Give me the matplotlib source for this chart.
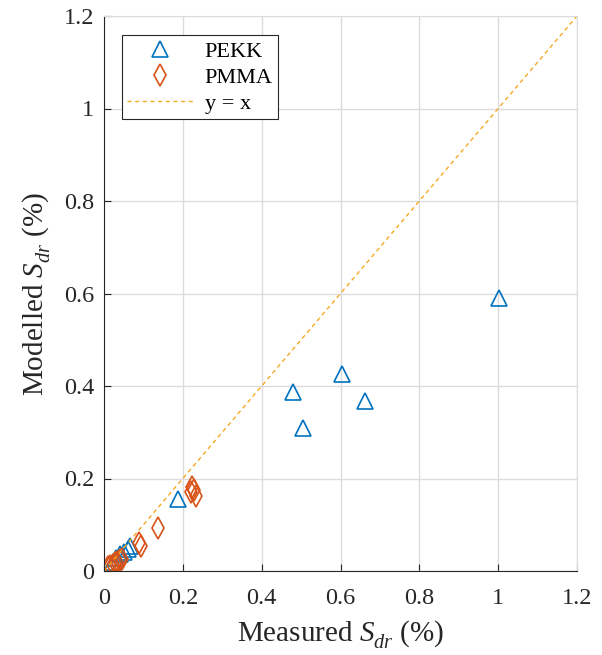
import matplotlib
matplotlib.use('Agg')
import matplotlib.pyplot as plt
import matplotlib._mathtext as mathtext
import numpy as np

plt.rcParams['font.family'] = ['Liberation Serif', 'DejaVu Serif']
plt.rcParams['mathtext.fontset'] = 'custom'
plt.rcParams['mathtext.it'] = 'Liberation Serif:italic'
plt.rcParams['mathtext.rm'] = 'Liberation Serif'
# drop the subscript a bit lower, like the MATLAB tex interpreter
mathtext.FontConstantsBase.sub1 = 0.55

# PEKK: measured vs modelled Sdr (%)
pekk_meas = [0.022, 0.030, 0.040, 0.050, 0.060, 0.066, 0.187, 0.479, 0.506, 0.604, 0.661, 1.003]
pekk_model = [0.020, 0.028, 0.036, 0.042, 0.048, 0.054, 0.156, 0.388, 0.310, 0.425, 0.368, 0.590]

# PMMA
pmma_meas = [0.010, 0.016, 0.022, 0.028, 0.034, 0.040, 0.046, 0.088, 0.093, 0.136, 0.221, 0.224, 0.228, 0.233]
pmma_model = [0.008, 0.011, 0.014, 0.017, 0.020, 0.023, 0.026, 0.060, 0.053, 0.093, 0.171, 0.182, 0.176, 0.162]

ticks = [0, 0.2, 0.4, 0.6, 0.8, 1, 1.2]
tick_labels = ['0', '0.2', '0.4', '0.6', '0.8', '1', '1.2']

fig = plt.figure(figsize=(6.02, 6.55), dpi=100)
ax = fig.add_axes([104/602, 1 - 571/655, 473/602, 555/655])

ax.plot(pekk_meas, pekk_model, linestyle='none', marker='^', markersize=11,
        markerfacecolor='none', markeredgecolor='#0072BD', markeredgewidth=1.2, label='PEKK')
ax.plot(pmma_meas, pmma_model, linestyle='none', marker='d', markersize=11,
        markerfacecolor='none', markeredgecolor='#D95319', markeredgewidth=1.2, label='PMMA')
line = np.array([0, 1.2])
ax.plot(line, line, linestyle=(0, (3, 2.5)), color='#F7A823', linewidth=1.0, label='y = x')

ax.set_xlim(0, 1.2)
ax.set_ylim(0, 1.2)
ax.set_xticks(ticks)
ax.set_yticks(ticks)
ax.set_xticklabels(tick_labels)
ax.set_yticklabels(tick_labels)
ax.tick_params(direction='in', length=5, labelsize=17.5, color='#262626', labelcolor='#262626')
ax.tick_params(axis='x', pad=12)
ax.tick_params(axis='y', pad=7)
ax.grid(True, color='#dcdcdc', linewidth=1.0)
ax.set_axisbelow(True)
for s in ['left', 'bottom']:
    ax.spines[s].set_color('#262626')
for s in ['top', 'right']:
    ax.spines[s].set_color('#dcdcdc')

ax.set_xlabel(r'Measured $S_{dr}$ (%)', fontsize=21, color='#262626', labelpad=7)
ax.set_ylabel(r'Modelled $S_{dr}$ (%)', fontsize=21, color='#262626', labelpad=8)

leg = ax.legend(loc='upper left', bbox_to_anchor=(0.037, 0.965), fontsize=16,
                frameon=True, fancybox=False, edgecolor='#262626', framealpha=1,
                handlelength=3.0, handletextpad=0.5, borderpad=0.25, labelspacing=0.25,
                borderaxespad=0)
leg.get_frame().set_linewidth(0.8)

fig.savefig('out.png', dpi=100)
